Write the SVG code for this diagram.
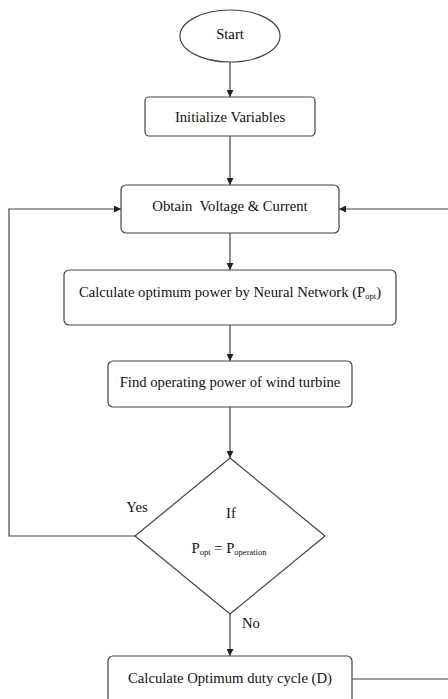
<svg xmlns="http://www.w3.org/2000/svg" width="448" height="699" viewBox="0 0 448 699">
<style>
.box{fill:#fff;stroke:#444;stroke-width:1.2}
.ln{fill:none;stroke:#444;stroke-width:1.2}
.t{font-family:"Liberation Serif","Times New Roman",Times,"DejaVu Serif",serif;font-size:14.7px;fill:#111;text-anchor:middle}
.sub{font-size:8.5px}
</style>
<defs>
<marker id="ah" viewBox="0 0 10 10" refX="10" refY="5" markerWidth="7" markerHeight="7" orient="auto" markerUnits="userSpaceOnUse">
<path d="M0,0 L10,5 L0,10 z" fill="#222"/>
</marker>
</defs>
<rect width="448" height="699" fill="#fff"/>
<g id="connectors">
<line class="ln" x1="230" y1="62" x2="230" y2="97" marker-end="url(#ah)"/>
<line class="ln" x1="230" y1="136" x2="230" y2="185" marker-end="url(#ah)"/>
<line class="ln" x1="230" y1="233" x2="230" y2="270" marker-end="url(#ah)"/>
<line class="ln" x1="230" y1="325" x2="230" y2="361" marker-end="url(#ah)"/>
<line class="ln" x1="230" y1="407" x2="230" y2="458" marker-end="url(#ah)"/>
<line class="ln" x1="230" y1="614" x2="230" y2="656" marker-end="url(#ah)"/>
<path class="ln" d="M135,536 H9 V209 H121" marker-end="url(#ah)"/>
<path class="ln" d="M352,679 H452 V209 H339" marker-end="url(#ah)"/>
</g>
<g id="start">
<ellipse class="box" cx="230" cy="36" rx="50" ry="26"/>
<text class="t" x="230" y="39">Start</text>
</g>
<g id="init">
<rect class="box" x="145" y="97" width="170" height="39" rx="4"/>
<text class="t" x="230" y="122">Initialize Variables</text>
</g>
<g id="obtain">
<rect class="box" x="121" y="185" width="218" height="48" rx="5"/>
<text class="t" x="230" y="211" xml:space="preserve">Obtain  Voltage &amp; Current</text>
</g>
<g id="calcopt">
<rect class="box" x="64" y="270" width="332" height="55" rx="5"/>
<text class="t" x="230" y="297">Calculate optimum power by Neural Network (P<tspan class="sub" dy="2">opt</tspan><tspan dy="-2">)</tspan></text>
</g>
<g id="find">
<rect class="box" x="108" y="361" width="244" height="46" rx="5"/>
<text class="t" x="230" y="387">Find operating power of wind turbine</text>
</g>
<g id="decision">
<polygon class="box" points="230,458 325,536 230,614 135,536"/>
<text class="t" x="231" y="518">If</text>
<text class="t" x="229" y="553">P<tspan class="sub" dy="2">opt</tspan><tspan dy="-2"> = P</tspan><tspan class="sub" dy="2">operation</tspan></text>
<text class="t" x="137" y="512">Yes</text>
<text class="t" x="251" y="628">No</text>
</g>
<g id="duty">
<rect class="box" x="108" y="656" width="244" height="50" rx="5"/>
<text class="t" x="230" y="683">Calculate Optimum duty cycle (D)</text>
</g>
</svg>
